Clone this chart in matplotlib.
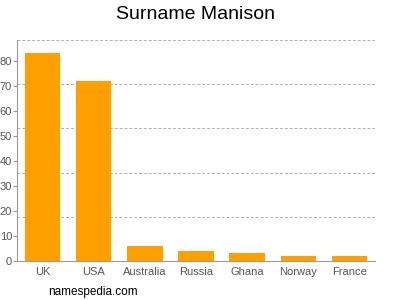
import matplotlib
matplotlib.use("Agg")
import matplotlib.pyplot as plt
import numpy as np

plt.rcParams["font.family"] = ["Liberation Sans", "DejaVu Sans"]

countries = ["UK", "USA", "Australia", "Russia", "Ghana", "Norway", "France"]
counts = [83, 72, 6, 4, 3, 2, 2]
yticks = [0, 10, 20, 30, 40, 50, 60, 70, 80]
ymax = 88.4

fig = plt.figure(figsize=(4, 3), dpi=100)
ax = fig.add_axes([0.0425, 0.13, 0.895, 0.7367])

x = np.arange(len(countries))
ax.bar(x, counts, width=0.69, color="#ffa000", zorder=3)

ax.set_xlim(-0.5, len(countries) - 0.5)
ax.set_ylim(0, ymax)
ax.set_xticks(x)
ax.set_xticklabels(countries)
ax.set_yticks(yticks)
ax.set_yticks(np.linspace(0, ymax, 6)[1:], minor=True)

ax.tick_params(axis="x", length=0, pad=4, labelsize=8, colors="#555555")
ax.tick_params(axis="y", which="major", length=3, width=0.8, pad=0.5,
               labelsize=8, colors="#555555", color="#999999")
ax.tick_params(axis="y", which="minor", length=0)
ax.grid(axis="y", which="minor", linestyle=(0, (3, 2)), color="#b0b0b0",
        linewidth=0.7, zorder=1)

for side in ["top", "right"]:
    ax.spines[side].set_visible(False)
for side in ["left", "bottom"]:
    ax.spines[side].set_color("#999999")
    ax.spines[side].set_linewidth(0.8)

fig.text(0.4875, 0.952, "Surname Manison", ha="center", va="center", fontsize=14)
fig.text(0.12, 0.027, "namespedia.com", ha="left", va="center", fontsize=8.5)

fig.savefig("out.png", dpi=100)
